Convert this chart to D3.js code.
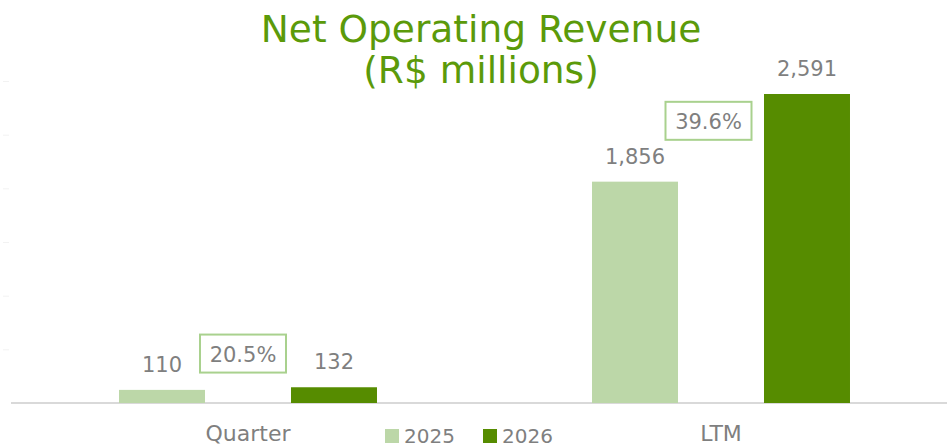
<!DOCTYPE html>
<html><head><meta charset="utf-8">
<script src="https://cdn.jsdelivr.net/npm/d3@7"></script>
<style>
html,body{margin:0;padding:0;background:#fff;}
svg{display:block;}
text{font-family:"DejaVu Sans",sans-serif;}
</style></head>
<body>
<svg id="chart" width="947" height="448"></svg>
<script>
// ---- data ----
const titleLines = ["Net Operating Revenue", "(R$ millions)"];
const categories = ["Quarter", "LTM"];
const seriesNames = ["2025", "2026"];
const values2025 = [110, 1856];
const values2026 = [132, 2591];
const growthLabels = ["20.5%", "39.6%"];
const yTicks = [0, 450, 900, 1350, 1800, 2250, 2700];

// ---- layout / style ----
const colors = {"2025": "#BCD7A8", "2026": "#568C00"};
const titleColor = "#5B9A0A";
const textColor = "#7F7F7F";
const growthDx = [-5, -12.5];
const growthDy = [-9, 9];

const svg = d3.select("#chart");

const x = d3.scaleBand().domain(categories).range([11.5, 957.5]).padding(0);
const xs = d3.scaleBand().domain(seriesNames)
  .range([x.bandwidth() * 0.2273, x.bandwidth() * 0.7727])
  .paddingInner(0.5).paddingOuter(0);
const y = d3.scaleLinear().domain([0, 2700]).range([403, 81]);

// faint y ticks
const yAxis = d3.axisLeft(y).tickValues(yTicks).tickSize(6).tickFormat("");
const yg = svg.append("g").attr("transform", "translate(9,0)").call(yAxis);
yg.select(".domain").remove();
yg.selectAll(".tick line").attr("stroke", "#F2F2F2").attr("stroke-width", 1);
yg.selectAll(".tick").filter(d => d === 0).remove();

// x axis baseline
const xAxis = d3.axisBottom(x).tickSize(0).tickFormat("");
const xg = svg.append("g").attr("transform", `translate(0,${y(0)})`).call(xAxis);
xg.select(".domain").attr("stroke", "#D9D9D9").attr("stroke-width", 2)
  .attr("d", `M11,0H947`);

// bars
const rows = categories.map((c, i) => ({
  cat: c,
  items: [{s: "2025", v: values2025[i]}, {s: "2026", v: values2026[i]}],
  growth: growthLabels[i], i
}));

const g = svg.selectAll("g.cat").data(rows).join("g").attr("class", "cat")
  .attr("transform", d => `translate(${x(d.cat)},0)`);

g.selectAll("rect.bar").data(d => d.items).join("rect").attr("class", "bar")
  .attr("x", d => xs(d.s)).attr("width", xs.bandwidth())
  .attr("y", d => y(d.v)).attr("height", d => y(0) - y(d.v))
  .attr("fill", d => colors[d.s]);

g.selectAll("text.val").data(d => d.items).join("text").attr("class", "val")
  .attr("x", d => xs(d.s) + xs.bandwidth() / 2)
  .attr("y", d => y(d.v) - 18)
  .attr("text-anchor", "middle").attr("fill", textColor)
  .style("font-size", "21px")
  .text(d => d3.format(",")(d.v));

// growth boxes
g.each(function(d) {
  const gg = d3.select(this);
  const cy = ((y(d.items[0].v) - 26) + (y(d.items[1].v) - 26)) / 2 + growthDy[d.i];
  const cx = x.bandwidth() / 2 + growthDx[d.i];
  gg.append("rect").attr("x", cx - 43).attr("y", cy - 19).attr("width", 86).attr("height", 38)
    .attr("fill", "#fff").attr("stroke", "#A9D18E").attr("stroke-width", 2);
  gg.append("text").attr("x", cx).attr("y", cy + 8).attr("text-anchor", "middle")
    .attr("fill", textColor).style("font-size", "21px").text(d.growth);
});

// category labels
svg.selectAll("text.cat").data(categories).join("text").attr("class", "cat")
  .attr("x", d => x(d) + x.bandwidth() / 2).attr("y", 441)
  .attr("text-anchor", "middle").attr("fill", textColor).style("font-size", "22px")
  .text(d => d);

// legend
const legendX = [385, 483];
const lg = svg.selectAll("g.leg").data(seriesNames).join("g").attr("class", "leg")
  .attr("transform", (d, i) => `translate(${legendX[i]},429)`);
lg.append("rect").attr("width", 14).attr("height", 14).attr("fill", d => colors[d]);
lg.append("text").attr("x", 19).attr("y", 14).attr("fill", textColor)
  .style("font-size", "20px").text(d => d);

// title
svg.selectAll("text.title").data(titleLines).join("text").attr("class", "title")
  .attr("x", 481).attr("y", (d, i) => 42 + i * 41)
  .attr("text-anchor", "middle").attr("fill", titleColor).style("font-size", "37.5px")
  .text(d => d);
</script>
</body></html>
